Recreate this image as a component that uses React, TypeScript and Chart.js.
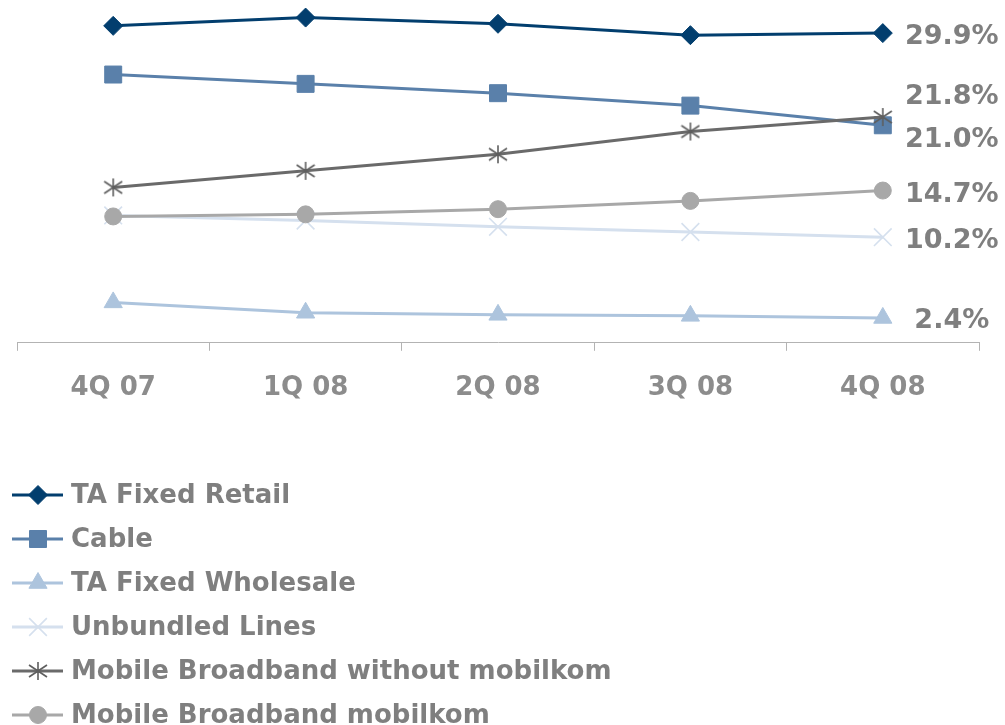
import React, { useEffect, useRef } from 'react';
import { Chart, registerables, PointElement } from 'chart.js';

Chart.register(...registerables);

const categories = ['4Q 07', '1Q 08', '2Q 08', '3Q 08', '4Q 08'];
const seriesNames = [
  'TA Fixed Retail',
  'Cable',
  'TA Fixed Wholesale',
  'Unbundled Lines',
  'Mobile Broadband without mobilkom',
  'Mobile Broadband mobilkom',
];
const taFixedRetail = [30.6, 31.4, 30.8, 29.7, 29.9];
const cable = [25.9, 25.0, 24.1, 22.9, 21.0];
const taFixedWholesale = [3.9, 2.9, 2.7, 2.6, 2.4];
const unbundledLines = [12.3, 11.8, 11.2, 10.7, 10.2];
const mobileWithout = [15.0, 16.6, 18.2, 20.4, 21.8];
const mobileMobilkom = [12.2, 12.4, 12.9, 13.7, 14.7];

const FONT = "'DejaVu Sans', Verdana, sans-serif";
const TEXT_GREY = '#7f7f7f';

function makeAsterisk(color: string): HTMLCanvasElement {
  const c = document.createElement('canvas');
  c.width = 20;
  c.height = 20;
  const g = c.getContext('2d')!;
  g.strokeStyle = color;
  g.lineWidth = 1.6;
  g.beginPath();
  g.moveTo(10, 1);
  g.lineTo(10, 19);
  g.moveTo(1, 4);
  g.lineTo(19, 16);
  g.moveTo(19, 4);
  g.lineTo(1, 16);
  g.stroke();
  return c;
}

export default function App() {
  const ref = useRef<HTMLCanvasElement | null>(null);

  useEffect(() => {
    if (!ref.current) return;
    const asterisk = makeAsterisk('#5e5e5e');
    const values = [taFixedRetail, cable, taFixedWholesale, unbundledLines, mobileWithout, mobileMobilkom];
    const colors = ['#023e6e', '#5a80aa', '#adc4dd', '#d5e0ee', '#6a6a6a', '#a8a8a8'];
    const styles: any[] = ['rectRot', 'rect', 'triangle', 'crossRot', asterisk, 'circle'];
    const radii = [9.5, 12, 10.5, 12.5, 10, 8.5];
    const pointBorder = [1, 1, 1, 1.6, 1, 1];
    const labelDy = [4, 15, 3, 4, -20, 4];

    const datasets = values.map((v, i) => ({
      label: seriesNames[i],
      data: v,
      borderColor: colors[i],
      backgroundColor: colors[i],
      pointBackgroundColor: colors[i],
      pointBorderColor: colors[i],
      pointBorderWidth: pointBorder[i],
      borderWidth: 3,
      pointStyle: styles[i],
      pointRadius: radii[i],
      tension: 0,
      clip: false as any,
      order: values.length - i,
    }));

    const big = { left: -1e5, top: -1e5, right: 1e5, bottom: 1e5 };

    const labelPlugin = {
      id: 'endLabels',
      afterDatasetsDraw(chart: any) {
        const ctx = chart.ctx;
        ctx.save();
        ctx.font = `bold 27px ${FONT}`;
        ctx.fillStyle = TEXT_GREY;
        ctx.textAlign = 'center';
        ctx.textBaseline = 'middle';
        chart.data.datasets.forEach((ds: any, i: number) => {
          const meta = chart.getDatasetMeta(i);
          const last = meta.data[meta.data.length - 1];
          const val = ds.data[ds.data.length - 1];
          ctx.fillText(val.toFixed(1) + '%', last.x + 69, last.y + labelDy[i]);
        });
        ctx.restore();
      },
    };

    const legendPlugin = {
      id: 'listLegend',
      afterDraw(chart: any) {
        const ctx = chart.ctx;
        chart.data.datasets.forEach((ds: any, i: number) => {
          const y = 495 + i * 44;
          ctx.save();
          ctx.strokeStyle = ds.borderColor;
          ctx.lineWidth = 3;
          ctx.beginPath();
          ctx.moveTo(12, y);
          ctx.lineTo(63, y);
          ctx.stroke();
          ctx.restore();
          const meta = chart.getDatasetMeta(i);
          const el = meta.data[0];
          ctx.save();
          const pt: any = new (PointElement as any)({ x: 38, y, options: el.options });
          pt.draw(ctx, big);
          ctx.restore();
          ctx.save();
          ctx.font = `bold 26px ${FONT}`;
          ctx.fillStyle = TEXT_GREY;
          ctx.textAlign = 'left';
          ctx.textBaseline = 'middle';
          ctx.fillText(ds.label, 71, y + 1);
          ctx.restore();
        });
      },
    };

    const chart = new Chart(ref.current, {
      type: 'line',
      data: { labels: categories, datasets },
      options: {
        animation: false,
        responsive: true,
        maintainAspectRatio: false,
        layout: { autoPadding: false, padding: { top: 1, left: 17, right: 26, bottom: 299 } },
        plugins: {
          legend: { display: false },
          tooltip: { enabled: false },
        },
        scales: {
          x: {
            offset: true,
            grid: {
              display: true,
              offset: true,
              drawOnChartArea: false,
              tickLength: 8,
              color: '#b3b3b3',
              lineWidth: 1,
            },
            border: { display: true, color: '#b3b3b3', width: 1 },
            ticks: {
              color: '#8c8c8c',
              padding: 22,
              font: { family: FONT, size: 26, weight: 'bold' },
              maxRotation: 0,
            },
          },
          y: {
            display: false,
            min: 0,
            max: 33,
          },
        },
      },
      plugins: [labelPlugin, legendPlugin],
    });
    return () => chart.destroy();
  }, []);

  return (
    <div style={{ position: 'absolute', left: 0, top: 0, width: 1005, height: 725, background: '#fff' }}>
      <canvas ref={ref} />
    </div>
  );
}
